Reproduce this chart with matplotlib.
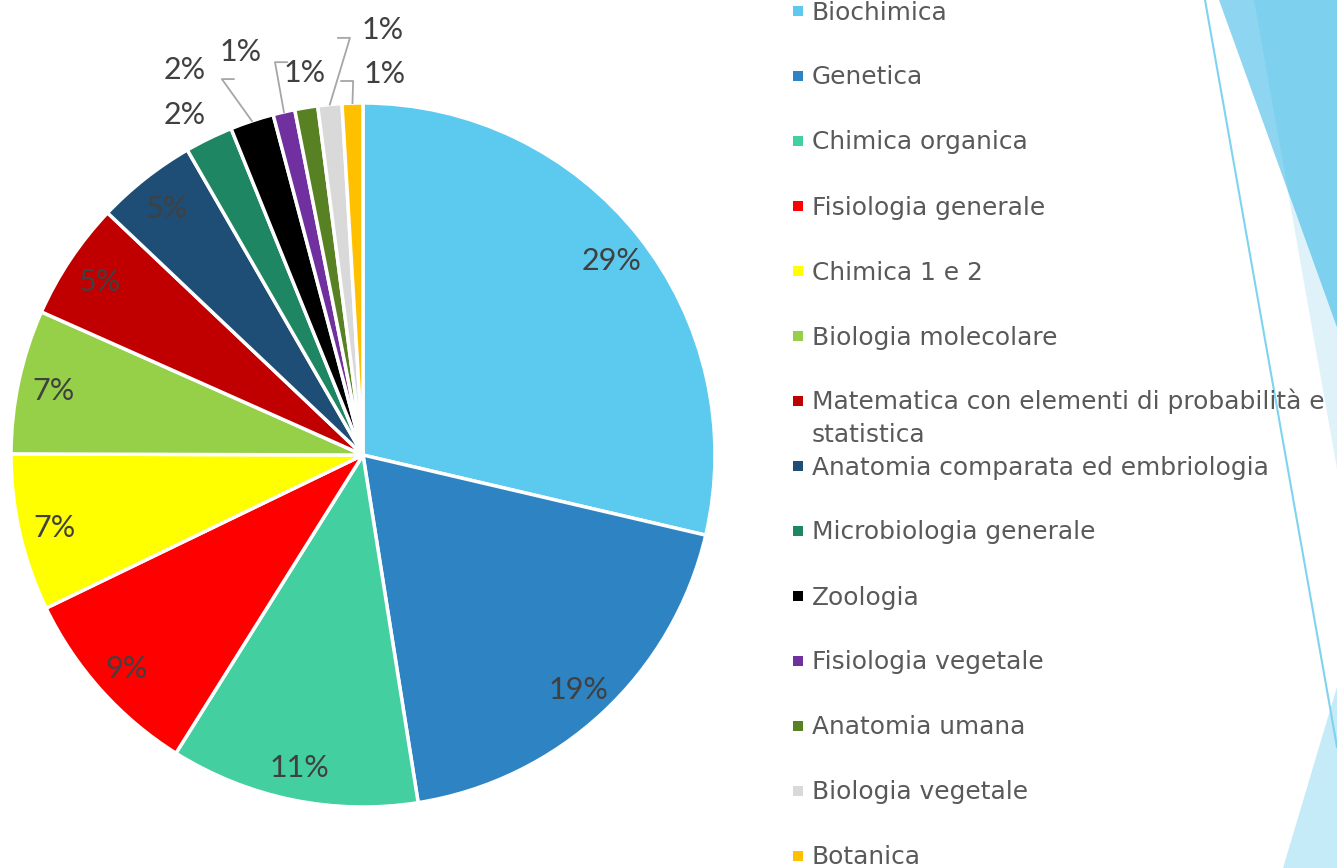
import textwrap
import numpy as np
import matplotlib
matplotlib.use("Agg")
import matplotlib.pyplot as plt
from matplotlib.patches import Polygon, Rectangle

plt.rcParams['font.family'] = ['Lato', 'DejaVu Sans']

# dati (percentuali)
materie = ['Biochimica', 'Genetica', 'Chimica organica', 'Fisiologia generale',
           'Chimica 1 e 2', 'Biologia molecolare',
           'Matematica con elementi di probabilità e statistica',
           'Anatomia comparata ed embriologia', 'Microbiologia generale',
           'Zoologia', 'Fisiologia vegetale', 'Anatomia umana',
           'Biologia vegetale', 'Botanica']
valori = [28.6, 18.8, 11.4, 8.9, 7.2, 6.6, 5.4, 4.6, 2.2, 2.0, 1.0, 1.05, 1.1, 0.95]
colori = ['#5CC9EE', '#2E83C3', '#43CFA0', '#FF0000', '#FFFF00', '#96D048',
          '#C00000', '#1E4E75', '#1F8663', '#000000', '#7030A0', '#588123',
          '#D9D9D9', '#FFC000']

# etichette esterne per le fette piccole: posizione testo, gomito della linea guida
etichette_esterne = {
    8: ((-0.506, 0.974), None),
    9: ((-0.506, 1.102), (-0.401, 1.068)),
    10: ((-0.349, 1.151), (-0.250, 1.116)),
    11: ((-0.165, 1.094), None),
    12: ((0.057, 1.216), (-0.037, 1.185)),
    13: ((0.0625, 1.091), (-0.028, 1.0625)),
}

W, H = 1337, 868
fig = plt.figure(figsize=(W / 100, H / 100), dpi=100)

# sfondo con le decorazioni della slide (coordinate in pixel)
bg = fig.add_axes([0, 0, 1, 1], zorder=0)
bg.set_xlim(0, W)
bg.set_ylim(H, 0)
bg.axis('off')
bg.add_patch(Polygon([(1254, 0), (1337, 0), (1337, 469)], closed=True, color='#DFF2FA', lw=0))
bg.add_patch(Polygon([(1219, 0), (1337, 0), (1337, 327)], closed=True, color='#8DD5F0', lw=0))
bg.add_patch(Polygon([(1254, 0), (1337, 0), (1337, 327), (1288, 190)], closed=True, color='#7DD1EE', lw=0))
bg.add_patch(Polygon([(1283, 868), (1337, 868), (1337, 687)], closed=True, color='#C5EAF8', lw=0))
bg.plot([1205, 1337], [0, 747], color='#7FD3F0', lw=1.5)

# torta
cx, cy, r = 363, 455, 352
ax = fig.add_axes([(cx - r) / W, (H - cy - r) / H, 2 * r / W, 2 * r / H], zorder=1)
ax.set_facecolor('none')
wedges, _ = ax.pie(valori, colors=colori, startangle=90, counterclock=False,
                   radius=1, wedgeprops=dict(edgecolor='white', linewidth=2.5))
ax.set_xlim(-1, 1)
ax.set_ylim(-1, 1)
ax.set_aspect('equal')

totale = sum(valori)
perc = [v / totale * 100 for v in valori]
meta = 0.033  # mezza altezza cifre in unità della torta

for i, w in enumerate(wedges):
    ang = np.deg2rad((w.theta1 + w.theta2) / 2)
    testo = f"{round(perc[i])}%"
    if i in etichette_esterne:
        (tx, ty), gomito = etichette_esterne[i]
        ax.text(tx, ty - meta, testo, ha='center', va='baseline', fontsize=22,
                color='#404040', clip_on=False)
        if gomito is not None:
            ex, ey = np.cos(ang), np.sin(ang)
            dx = -0.034 if gomito[0] < tx else 0.034
            ax.plot([gomito[0] + dx, gomito[0], ex], [gomito[1], gomito[1], ey],
                    color='#A6A6A6', lw=1.3, clip_on=False)
    else:
        tx, ty = 0.9 * np.cos(ang), 0.9 * np.sin(ang)
        ax.text(tx, ty - meta, testo, ha='center', va='baseline', fontsize=22,
                color='#404040')

# legenda disegnata a mano
for i, (nome, col) in enumerate(zip(materie, colori)):
    y = 11 + 65 * i
    bg.add_patch(Rectangle((793, y - 5), 10, 10, color=col, lw=0))
    righe = textwrap.wrap(nome, 40)
    for j, riga in enumerate(righe):
        bg.text(812, y + 8.5 + 32 * j, riga, ha='left', va='baseline',
                fontsize=17.9, color='#595959', family=['DejaVu Sans'])

fig.savefig('out.png', dpi=100)
